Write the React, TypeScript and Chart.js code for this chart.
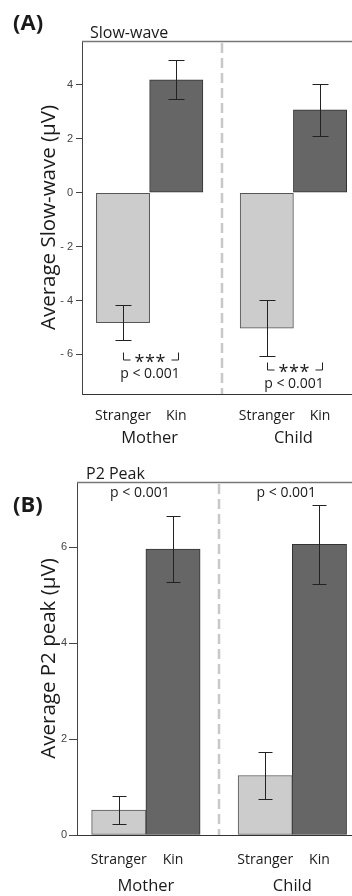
import React, { useEffect, useRef } from 'react';
import { Chart, registerables } from 'chart.js';

Chart.register(...registerables);

// ---------- data ----------
const GROUPS = ['Mother', 'Child'];
const CONDITIONS = ['Stranger', 'Kin'];

// Panel A: Slow-wave (µV)
const SW_STRANGER = [-4.82, -5.03];
const SW_KIN = [4.19, 3.08];
const SW_STRANGER_SE = [0.66, 1.03];
const SW_KIN_SE = [0.72, 0.97];
const SW_TICKS = [-6, -4, -2, 0, 2, 4];
const SW_Y_RANGE = [-7.47, 5.63];
const SW_SIG_LABEL = '***';
const SW_SIG_LEVEL = [-5.9, -6.27];
const SW_P_TEXT = ['p < 0.001', 'p < 0.001'];

// Panel B: P2 peak (µV)
const P2_STRANGER = [0.52, 1.24];
const P2_KIN = [5.96, 6.06];
const P2_STRANGER_SE = [0.29, 0.49];
const P2_KIN_SE = [0.69, 0.83];
const P2_TICKS = [0, 2, 4, 6];
const P2_Y_RANGE = [0, 7.36];
const P2_P_LEVEL = 7.13;
const P2_P_TEXT = ['p < 0.001', 'p < 0.001'];

// ---------- layout helpers ----------
const GROUP_STEP = 2.7;
const X_RANGE = [0.23, 5.3]; // visible range (plot frame continues past the right edge)
const barX = (g: number, c: number) => 1 + g * GROUP_STEP + c;
const SEPARATOR_X = (barX(0, 1) + 0.5 + barX(1, 0) - 0.5) / 2;

const VIEW_W = 352;
const CANVAS_W = 372;

const SANS = '"Open Sans", sans-serif';
const TICK_FONT = '"Liberation Sans", Arial, sans-serif';
const INK = '#1a1a1a';

type Spec = {
  height: number;
  panelLabel: string;
  panelLabelY: number;
  title: string;
  titleX: number;
  titleY: number;
  yTitle: string;
  stranger: number[];
  kin: number[];
  strangerSE: number[];
  kinSE: number[];
  ticks: number[];
  yRange: number[];
  padTop: number;
  axisWidth: number;
  xHeight: number;
  tickLen: number;
  tickPad: number;
  xLabelPad: number;
  groupBaseline: number;
  capWidth: number;
  sig?: { label: string; levels: number[]; p: string[] };
  topP?: { level: number; p: string[] };
};

const SPEC_A: Spec = {
  height: 450,
  panelLabel: '(A)',
  panelLabelY: 24,
  title: 'Slow-wave',
  titleX: 90,
  titleY: 37.5,
  yTitle: 'Average Slow-wave (µV)',
  stranger: SW_STRANGER,
  kin: SW_KIN,
  strangerSE: SW_STRANGER_SE,
  kinSE: SW_KIN_SE,
  ticks: SW_TICKS,
  yRange: SW_Y_RANGE,
  padTop: 41,
  axisWidth: 82,
  xHeight: 56,
  tickLen: 6,
  tickPad: 3,
  xLabelPad: 5.5,
  groupBaseline: 49,
  capWidth: 16,
  sig: { label: SW_SIG_LABEL, levels: SW_SIG_LEVEL, p: SW_P_TEXT },
};

const SPEC_B: Spec = {
  height: 446,
  panelLabel: '(B)',
  panelLabelY: 56,
  title: 'P2 Peak',
  titleX: 86,
  titleY: 28.5,
  yTitle: 'Average P2 peak (µV)',
  stranger: P2_STRANGER,
  kin: P2_KIN,
  strangerSE: P2_STRANGER_SE,
  kinSE: P2_KIN_SE,
  ticks: P2_TICKS,
  yRange: P2_Y_RANGE,
  padTop: 32,
  axisWidth: 77,
  xHeight: 61,
  tickLen: 8,
  tickPad: 2,
  xLabelPad: 9,
  groupBaseline: 55.5,
  capWidth: 14,
  topP: { level: P2_P_LEVEL, p: P2_P_TEXT },
};

function line(ctx: CanvasRenderingContext2D, x1: number, y1: number, x2: number, y2: number) {
  ctx.beginPath();
  ctx.moveTo(x1, y1);
  ctx.lineTo(x2, y2);
  ctx.stroke();
}

function decorPlugin(spec: Spec) {
  return {
    id: 'decor',
    beforeDatasetsDraw(chart: any) {
      const { ctx, chartArea: ca, scales } = chart;
      const sx = Math.round(scales.x.getPixelForValue(SEPARATOR_X));
      ctx.save();
      ctx.strokeStyle = '#c8c8c8';
      ctx.lineWidth = 2.5;
      ctx.setLineDash([10, 5]);
      line(ctx, sx, ca.top + 2, sx, ca.bottom);
      ctx.restore();
    },
    afterDatasetsDraw(chart: any) {
      const { ctx, chartArea: ca, scales } = chart;
      const { x, y } = scales;
      ctx.save();
      // top frame line
      ctx.strokeStyle = '#777777';
      ctx.lineWidth = 1.5;
      line(ctx, ca.left, ca.top + 0.5, ca.right, ca.top + 0.5);
      // error bars
      ctx.strokeStyle = '#222';
      ctx.lineWidth = 1;
      chart.data.datasets.forEach((ds: any) => {
        ds.data.forEach((pt: any, i: number) => {
          const px = Math.round(x.getPixelForValue(pt.x)) + 0.5;
          const hi = Math.round(y.getPixelForValue(pt.y + ds.se[i])) + 0.5;
          const lo = Math.round(y.getPixelForValue(pt.y - ds.se[i])) + 0.5;
          line(ctx, px, hi, px, lo);
          line(ctx, px - spec.capWidth / 2, hi, px + spec.capWidth / 2, hi);
          line(ctx, px - spec.capWidth / 2, lo, px + spec.capWidth / 2, lo);
        });
      });
      ctx.restore();
    },
    afterDraw(chart: any) {
      const { ctx, chartArea: ca, scales } = chart;
      const { x, y } = scales;
      ctx.save();
      ctx.fillStyle = INK;
      // panel label
      ctx.font = `bold 22px ${SANS}`;
      ctx.textAlign = 'left';
      ctx.textBaseline = 'middle';
      ctx.fillText(spec.panelLabel, 13, spec.panelLabelY);
      // panel title
      ctx.font = `16px ${SANS}`;
      ctx.textBaseline = 'alphabetic';
      ctx.fillText(spec.title, spec.titleX, spec.titleY);
      // group labels
      ctx.font = `16.5px ${SANS}`;
      ctx.textAlign = 'center';
      GROUPS.forEach((gName, g) => {
        const cx = x.getPixelForValue((barX(g, 0) + barX(g, 1)) / 2);
        ctx.fillText(gName, cx, ca.bottom + spec.groupBaseline);
      });
      // significance brackets (panel A)
      if (spec.sig) {
        const sig = spec.sig;
        ctx.strokeStyle = '#222';
        ctx.lineWidth = 1;
        GROUPS.forEach((_, g) => {
          const l = Math.round(x.getPixelForValue(barX(g, 0))) + 0.5;
          const r = Math.round(x.getPixelForValue(barX(g, 1))) + 2.5;
          const top = Math.round(y.getPixelForValue(sig.levels[g])) + 0.5;
          const bot = top + 7.5;
          line(ctx, l, top, l, bot);
          line(ctx, l, bot, l + 7, bot);
          line(ctx, r, top, r, bot);
          line(ctx, r - 7, bot, r, bot);
          const mid = (l + r) / 2 - 1;
          ctx.font = `18px ${SANS}`;
          ctx.textAlign = 'center';
          ctx.textBaseline = 'alphabetic';
          const chars = sig.label.split('');
          chars.forEach((ch, k) => {
            ctx.fillText(ch, mid + (k - (chars.length - 1) / 2) * 10.5, bot + 8);
          });
          ctx.font = `14px ${SANS}`;
          ctx.fillText(sig.p[g], mid, bot + 17.5);
        });
      }
      // p labels on top (panel B)
      if (spec.topP) {
        const tp = spec.topP;
        ctx.font = `14px ${SANS}`;
        ctx.textAlign = 'center';
        ctx.textBaseline = 'middle';
        GROUPS.forEach((_, g) => {
          const cx = x.getPixelForValue((barX(g, 0) + barX(g, 1)) / 2) - 6;
          ctx.fillText(tp.p[g], cx, y.getPixelForValue(tp.level));
        });
      }
      ctx.restore();
    },
  };
}

function buildConfig(spec: Spec): any {
  const datasets = [
    {
      label: CONDITIONS[0],
      data: spec.stranger.map((v, g) => ({ x: barX(g, 0), y: v })),
      se: spec.strangerSE,
      backgroundColor: '#cccccc',
      borderColor: '#555555',
    },
    {
      label: CONDITIONS[1],
      data: spec.kin.map((v, g) => ({ x: barX(g, 1), y: v })),
      se: spec.kinSE,
      backgroundColor: '#666666',
      borderColor: '#333333',
    },
  ].map((d) => ({
    ...d,
    borderWidth: 1,
    borderSkipped: false,
    grouped: false,
    categoryPercentage: 1,
    barPercentage: 1,
  }));

  // the canvas is wider than the viewport, so the frame runs past the right edge
  const xMax =
    X_RANGE[0] + ((X_RANGE[1] - X_RANGE[0]) * (CANVAS_W - spec.axisWidth)) / (VIEW_W - spec.axisWidth);

  return {
    type: 'bar',
    data: { datasets },
    plugins: [decorPlugin(spec)],
    options: {
      responsive: false,
      animation: false,
      devicePixelRatio: 1,
      layout: { padding: { top: spec.padTop, right: 0, bottom: 0, left: 0 } },
      plugins: {
        legend: { display: false },
        tooltip: { enabled: false },
        title: { display: false },
      },
      scales: {
        x: {
          type: 'linear',
          min: X_RANGE[0],
          max: xMax,
          offset: false,
          grid: { display: false, offset: false },
          border: { display: true, color: '#333', width: 1 },
          afterBuildTicks: (s: any) => {
            s.ticks = GROUPS.flatMap((_, g) => CONDITIONS.map((__, c) => ({ value: barX(g, c) })));
          },
          afterFit: (s: any) => {
            s.height = spec.xHeight;
          },
          ticks: {
            autoSkip: false,
            maxRotation: 0,
            padding: spec.xLabelPad,
            color: INK,
            font: { family: SANS, size: 14 },
            callback: (_v: any, i: number) => CONDITIONS[i % CONDITIONS.length],
          },
        },
        y: {
          type: 'linear',
          min: spec.yRange[0],
          max: spec.yRange[1],
          afterBuildTicks: (s: any) => {
            s.ticks = spec.ticks.map((v) => ({ value: v }));
          },
          afterFit: (s: any) => {
            s.width = spec.axisWidth;
          },
          grid: {
            display: true,
            drawOnChartArea: false,
            drawTicks: true,
            tickLength: spec.tickLen,
            tickColor: '#444',
            color: '#444',
          },
          border: { display: true, color: '#444', width: 1 },
          ticks: {
            padding: spec.tickPad,
            color: '#444',
            font: { family: TICK_FONT, size: 11 },
            callback: (v: number) => (v < 0 ? '- ' + Math.abs(v) : String(v)),
          },
          title: {
            display: true,
            text: spec.yTitle,
            color: INK,
            font: { family: SANS, size: 20.5 },
            padding: { top: 37, bottom: 0 },
          },
        },
      },
    },
  };
}

function Panel({ spec, top }: { spec: Spec; top: number }) {
  const ref = useRef<HTMLCanvasElement | null>(null);
  useEffect(() => {
    if (!ref.current) return;
    const chart = new Chart(ref.current, buildConfig(spec));
    return () => chart.destroy();
  }, [spec]);
  return (
    <canvas
      ref={ref}
      width={CANVAS_W}
      height={spec.height}
      style={{ position: 'absolute', left: 0, top, width: CANVAS_W, height: spec.height, display: 'block' }}
    />
  );
}

export default function App() {
  return (
    <div
      style={{ position: 'absolute', left: 0, top: 0, width: VIEW_W, height: 896, background: '#fff', overflow: 'hidden' }}
    >
      <Panel spec={SPEC_A} top={0} />
      <Panel spec={SPEC_B} top={450} />
    </div>
  );
}
